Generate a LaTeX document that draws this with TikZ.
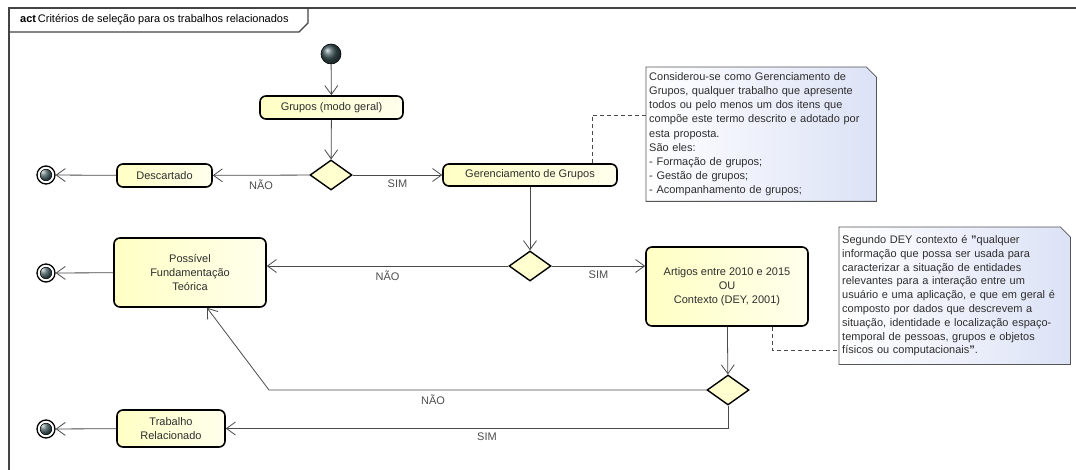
\documentclass[tikz,border=0pt]{standalone}
\usepackage{fontspec}
\setmainfont{Liberation Sans}
\usetikzlibrary{arrows.meta,shapes.geometric,calc}
\pgfdeclarelayer{background}
\pgfsetlayers{background,main}

\definecolor{edgec}{HTML}{4A4A4A}
\definecolor{ink}{HTML}{2E2E2E}
\definecolor{actA}{HTML}{FFFFC4}
\definecolor{actB}{HTML}{FFFFEC}
\definecolor{noteA}{HTML}{FFFFFF}
\definecolor{noteB}{HTML}{DCE2F6}
\definecolor{notedge}{HTML}{555555}
\definecolor{ballc}{HTML}{3E5559}

\tikzset{
  x=1pt, y=-1pt,
  every node/.style={font=\fontsize{11}{14}\selectfont, text=ink},
  activity/.style={rectangle, rounded corners=6pt, draw=black, line width=1.6pt,
    left color=actA, right color=actB, align=center, inner sep=0pt},
  decision/.style={diamond, draw=black, line width=1.4pt, fill=actA!80!white,
    minimum width=42pt, minimum height=30pt, inner sep=0pt},
  initnode/.style={circle, draw=black, line width=0.6pt, ball color=ballc,
    minimum size=20pt, inner sep=0pt},
  finalnode/.style={circle, draw=black, line width=1.3pt, fill=white,
    minimum size=18pt, inner sep=0pt,
    path picture={\shade[ball color=ballc, draw=black, line width=0.5pt]
      (path picture bounding box.center) circle (5.8pt);}},
  flowedge/.style={draw=edgec, line width=0.8pt,
    -{Straight Barb[length=9pt, width=13pt, line width=0.8pt]}},
  guard/.style={text=ink!85, inner sep=4pt},
  notebox/.style={rectangle, align=left, inner sep=3pt, anchor=north west,
    font=\fontsize{11}{14.1}\selectfont},
  noteshape/.style={left color=noteA, right color=noteB, draw=notedge, line width=0.8pt},
  notelink/.style={draw=edgec, line width=0.7pt, dash pattern=on 4pt off 3pt},
  framel/.style={draw=edgec!90!black, line width=1.2pt}
}

\begin{document}
\begin{tikzpicture}
\useasboundingbox (0,0) rectangle (1076,470);

% diagram frame and its name tab
\draw[framel] (9,480) -- (9,8) -- (1090,8);
\draw[framel] (9,32) -- (299,32) -- (308,23) -- (308,8);
\node[anchor=base west, text=black, inner sep=0pt] (title) at (20,23)
  {\textbf{act}\,Critérios de seleção para os trabalhos relacionados};

% nodes
\node[initnode] (init) at (331,54) {};
\node[activity, minimum width=143pt, minimum height=23pt] (grp) at (331.5,107.5) {Grupos (modo geral)};
\node[decision] (d1) at (331,175) {};
\node[activity, minimum width=95pt, minimum height=23pt] (desc) at (164.5,175.5) {Descartado};
\node[finalnode] (f1) at (46,175) {};
\node[activity, minimum width=174pt, minimum height=22pt] (ger) at (530,175) {Gerenciamento de Grupos};
\node[decision] (d2) at (530,266) {};
\node[activity, minimum width=152pt, minimum height=69pt] (pft) at (190,272.5)
  {Possível\\Fundamentação\\Teórica};
\node[finalnode] (f2) at (46,273) {};
\node[activity, minimum width=162pt, minimum height=79pt] (art) at (727,286.5)
  {Artigos entre 2010 e 2015\\OU\\Contexto (DEY, 2001)};
\node[decision] (d3) at (728,390) {};
\node[activity, minimum width=108pt, minimum height=37pt] (trab) at (171,428.5)
  {Trabalho\\Relacionado};
\node[finalnode] (f3) at (46,429) {};

% notes
\node[notebox, text width=224pt, minimum height=134pt] (note1) at (646,67)
  {Considerou-se como Gerenciamento de\\
   Grupos, qualquer trabalho que apresente\\
   todos ou pelo menos um dos itens que\\
   compõe este termo descrito e adotado por\\
   esta proposta.\\
   São eles:\\
   - Formação de grupos;\\
   - Gestão de grupos;\\
   - Acompanhamento de grupos;};
\node[notebox, text width=225pt, minimum height=137pt, font=\fontsize{11}{13.8}\selectfont] (note2) at (839,227)
  {Segundo DEY contexto é \textbf{"}qualquer\\
   informação que possa ser usada para\\
   caracterizar a situação de entidades\\
   relevantes para a interação entre um\\
   usuário e uma aplicação, e que em geral é\\
   composto por dados que descrevem a\\
   situação, identidade e localização espaço-\\
   temporal de pessoas, grupos e objetos\\
   físicos ou computacionais\textbf{"}.};

\begin{pgfonlayer}{background}
  \foreach \n in {note1,note2}{
    \path[noteshape] (\n.north west) -- ($(\n.north east)+(-10,0)$)
      -- ($(\n.north east)+(0,10)$) -- (\n.south east) -- (\n.south west) -- cycle;
  }
\end{pgfonlayer}

% control flows
\draw[flowedge] (init) -- (grp);
\draw[flowedge] (grp) -- (d1);
\draw[flowedge] (d1) -- node[guard, below] {NÃO} (desc);
\draw[flowedge] (d1) -- node[guard, below] {SIM} (ger);
\draw[flowedge] (desc) -- (f1);
\draw[flowedge] (ger) -- (d2);
\draw[flowedge] (d2.west) -- node[guard, below] {NÃO} (d2.west -| pft.east);
\draw[flowedge] (d2) -- node[guard, below] {SIM} (d2 -| art.west);
\draw[flowedge] (pft) -- (f2);
\draw[flowedge] (art) -- (d3);
\coordinate (bend) at (269,390);
\draw[flowedge] (d3.west) -- node[guard, below, pos=0.625] {NÃO} (bend)
  -- ($(pft.south)+(17,0)$);
\draw[flowedge] (d3.south) |- node[guard, below, pos=0.74] {SIM} (trab.east);
\draw[flowedge] (trab) -- (f3);

% note attachments
\draw[notelink] (ger.north -| 592,0) |- (note1.west |- 0,115);
\draw[notelink] (art.south -| 772,0) |- (note2.west |- 0,350);
\end{tikzpicture}
\end{document}
